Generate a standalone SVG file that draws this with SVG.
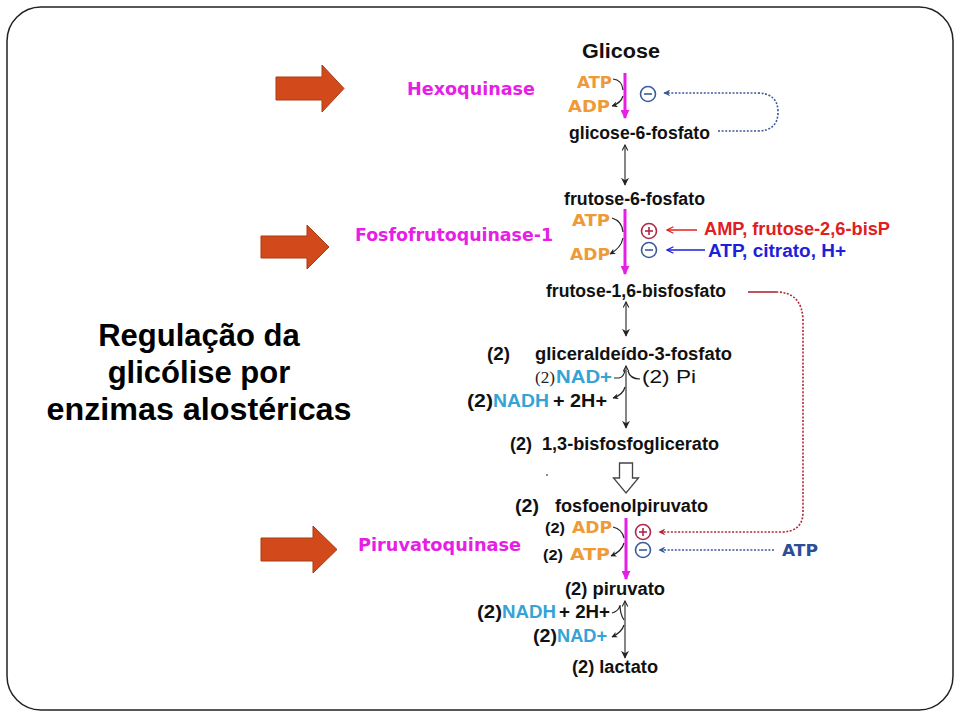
<svg xmlns="http://www.w3.org/2000/svg" width="960" height="720" viewBox="0 0 960 720">
<style>
.lbl{font-family:"Liberation Sans",Arial,sans-serif;font-weight:bold;font-size:17.5px;fill:#111}
.enz{font-family:"DejaVu Sans",Verdana,sans-serif;font-weight:bold;font-size:17px;fill:#E61EE6}
.nuc{font-family:"DejaVu Sans",Verdana,sans-serif;font-weight:bold;font-size:16.5px;fill:#EE9A38}
.cy{font-family:"Liberation Sans",Arial,sans-serif;font-weight:bold;font-size:17.5px;fill:#35A3D6}
.ser{font-family:"Liberation Serif","Times New Roman",serif;font-size:17px;fill:#222}
.title{font-family:"Liberation Sans",Arial,sans-serif;font-weight:bold;font-size:31px;fill:#000}
.mag{stroke:#E61EE6;stroke-width:3;fill:none}
.rxn{stroke:#444;stroke-width:1.3;fill:none}
.side{stroke:#222;stroke-width:1.2;fill:none}
.big{fill:#D24A1C;stroke:#A63A15;stroke-width:1}
.circ{fill:#fff;stroke-width:1.6}
</style>
<defs>
<marker id="mh" viewBox="0 0 10 10" refX="9" refY="5" markerWidth="9" markerHeight="9" markerUnits="userSpaceOnUse" orient="auto"><path d="M0,0 L10,5 L0,10 z" fill="#E61EE6"/></marker>
<marker id="bh" viewBox="0 0 10 10" refX="9" refY="5" markerWidth="9" markerHeight="8" markerUnits="userSpaceOnUse" orient="auto"><path d="M0,0 L10,5 L0,10 L3,5 z" fill="#222"/></marker>
<marker id="oh" viewBox="0 0 10 10" refX="9" refY="5" markerWidth="7" markerHeight="7" markerUnits="userSpaceOnUse" orient="auto-start-reverse"><path d="M1,1 L9,5 L1,9" fill="none" stroke="#222" stroke-width="1.5"/></marker>
<marker id="sh" viewBox="0 0 10 10" refX="9" refY="5" markerWidth="6" markerHeight="6" markerUnits="userSpaceOnUse" orient="auto"><path d="M0,0 L10,5 L0,10 L3,5 z" fill="#222"/></marker>
<marker id="dbl" viewBox="0 0 10 10" refX="9" refY="5" markerWidth="7" markerHeight="7" markerUnits="userSpaceOnUse" orient="auto"><path d="M0,0 L10,5 L0,10 L3,5 z" fill="#3A5A9A"/></marker>
<marker id="drd" viewBox="0 0 10 10" refX="9" refY="5" markerWidth="7" markerHeight="7" markerUnits="userSpaceOnUse" orient="auto"><path d="M0,0 L10,5 L0,10 L3,5 z" fill="#B02838"/></marker>
<marker id="rh" viewBox="0 0 10 10" refX="9" refY="5" markerWidth="8" markerHeight="8" markerUnits="userSpaceOnUse" orient="auto"><path d="M1,1 L9,5 L1,9" fill="none" stroke="#E0201E" stroke-width="1.5"/></marker>
<marker id="bl" viewBox="0 0 10 10" refX="9" refY="5" markerWidth="8" markerHeight="8" markerUnits="userSpaceOnUse" orient="auto"><path d="M1,1 L9,5 L1,9" fill="none" stroke="#1E1EDB" stroke-width="1.5"/></marker>
</defs>
<rect x="0" y="0" width="960" height="720" fill="#fff"/>
<rect id="frame" x="7" y="7" width="946" height="703" rx="34" fill="#fff" stroke="#222" stroke-width="1.5"/>

<g id="title">
<text class="title" x="199" y="346" text-anchor="middle">Regulação da</text>
<text class="title" x="199" y="383" text-anchor="middle">glicólise por</text>
<text class="title" x="199" y="420" text-anchor="middle" textLength="305" lengthAdjust="spacingAndGlyphs">enzimas alostéricas</text>
</g>

<g id="pointer1"><polygon class="big" points="276,77 322,77 322,65 344,88.5 322,112 322,100 276,100"/></g>
<g id="pointer2"><polygon class="big" points="261,236 307,236 307,225 329,247 307,269 307,258 261,258"/></g>
<g id="pointer3"><polygon class="big" points="261,538 313,538 313,526 337,549.5 313,573 313,561 261,561"/></g>

<g id="connectors">
<line class="mag" x1="625" y1="73" x2="625" y2="118" marker-end="url(#mh)"/>
<line class="mag" x1="625" y1="209" x2="625" y2="274" marker-end="url(#mh)"/>
<line class="mag" x1="626" y1="518" x2="626" y2="579" marker-end="url(#mh)"/>
<line class="rxn" x1="625" y1="145" x2="625" y2="185" marker-start="url(#oh)" marker-end="url(#bh)"/>
<line class="rxn" x1="626" y1="302" x2="626" y2="336" marker-start="url(#oh)" marker-end="url(#bh)"/>
<line class="rxn" x1="626" y1="366" x2="626" y2="428" marker-start="url(#oh)" marker-end="url(#bh)"/>
<line class="rxn" x1="625" y1="601" x2="625" y2="658" marker-start="url(#oh)" marker-end="url(#bh)"/>
<polygon points="619.5,463 632.5,463 632.5,478 638.5,478 626,493 613.5,478 619.5,478" fill="#fff" stroke="#444" stroke-width="1.3"/>
<path class="side" d="M613,79 Q622,80 623,90"/>
<path class="side" d="M623,96 Q621,103 612,106" marker-end="url(#sh)"/>
<path class="side" d="M612,218 Q622,221 623,232"/>
<path class="side" d="M623,238 Q621,248 610,254" marker-end="url(#sh)"/>
<path class="side" d="M614,378 L619,378 Q624,377 625,370"/>
<path class="side" d="M640,379 Q630,379 628,371"/>
<path class="side" d="M625,387 Q623,395 613,398" marker-end="url(#sh)"/>
<path class="side" d="M613,527 Q622,529 624,538"/>
<path class="side" d="M624,543 Q622,551 611,556" marker-end="url(#sh)"/>
<path class="side" d="M612,613 Q619,611 620,605 Q620,614 624,620"/>
<path class="side" d="M624,625 Q622,632 612,637" marker-end="url(#sh)"/>
<path d="M718,131 L757,131 Q778,131 778,112 Q778,93 757,93 L664,93" fill="none" stroke="#3A5A9A" stroke-width="1.6" stroke-dasharray="2 1.6" marker-end="url(#dbl)"/>
<path d="M748,292 L776,292" fill="none" stroke="#B02838" stroke-width="1.6"/>
<path d="M776,292 Q803,292 803,322 L803,512 Q803,532 781,532 L659,532" fill="none" stroke="#B02838" stroke-width="1.6" stroke-dasharray="2 1.6" marker-end="url(#drd)"/>
<path d="M774,550 L659,550" fill="none" stroke="#3A5A9A" stroke-width="1.6" stroke-dasharray="2 1.6" marker-end="url(#dbl)"/>
<line x1="697" y1="230" x2="667" y2="230" stroke="#E0201E" stroke-width="1.5" marker-end="url(#rh)"/>
<line x1="705" y1="250" x2="667" y2="250" stroke="#1E1EDB" stroke-width="1.5" marker-end="url(#bl)"/>
<circle cx="547" cy="475" r="1" fill="#666"/>
</g>

<g id="glicose"><text class="lbl" x="582" y="58" style="font-size:20px" textLength="78" lengthAdjust="spacingAndGlyphs">Glicose</text></g>

<g id="hexoquinase">
<text class="enz" x="407" y="95" textLength="128" lengthAdjust="spacingAndGlyphs">Hexoquinase</text>
<text class="nuc" x="577" y="88" textLength="35" lengthAdjust="spacingAndGlyphs">ATP</text>
<text class="nuc" x="568" y="112" textLength="42" lengthAdjust="spacingAndGlyphs">ADP</text>
<circle class="circ" cx="648" cy="94" r="7.5" stroke="#3A5D9A"/>
<line x1="644" y1="94" x2="652" y2="94" stroke="#3A5D9A" stroke-width="1.6"/>
</g>

<g id="g6p"><text class="lbl" x="569" y="139" textLength="141" lengthAdjust="spacingAndGlyphs">glicose-6-fosfato</text></g>
<g id="f6p"><text class="lbl" x="564" y="205" textLength="141" lengthAdjust="spacingAndGlyphs">frutose-6-fosfato</text></g>

<g id="pfk1">
<text class="enz" x="355" y="241" textLength="198" lengthAdjust="spacingAndGlyphs">Fosfofrutoquinase-1</text>
<text class="nuc" x="572" y="226" textLength="38" lengthAdjust="spacingAndGlyphs">ATP</text>
<text class="nuc" x="570" y="260" textLength="40" lengthAdjust="spacingAndGlyphs">ADP</text>
<circle class="circ" cx="649" cy="231" r="7.5" stroke="#B02848"/>
<line x1="645" y1="231" x2="653" y2="231" stroke="#B02848" stroke-width="1.6"/>
<line x1="649" y1="227" x2="649" y2="235" stroke="#B02848" stroke-width="1.6"/>
<circle class="circ" cx="649" cy="250" r="7.5" stroke="#3A5D9A"/>
<line x1="645" y1="250" x2="653" y2="250" stroke="#3A5D9A" stroke-width="1.6"/>
<text class="lbl" x="704" y="235" style="fill:#E0201E;font-size:17.5px" textLength="186" lengthAdjust="spacingAndGlyphs">AMP, frutose-2,6-bisP</text>
<text class="lbl" x="708" y="257" style="fill:#1E1EDB;font-size:17.5px" textLength="138" lengthAdjust="spacingAndGlyphs">ATP, citrato, H+</text>
</g>

<g id="f16bp"><text class="lbl" x="546" y="297" textLength="180" lengthAdjust="spacingAndGlyphs">frutose-1,6-bisfosfato</text></g>

<g id="g3p">
<text class="lbl" x="487" y="360" textLength="23" lengthAdjust="spacingAndGlyphs">(2)</text>
<text class="lbl" x="535" y="360" textLength="197" lengthAdjust="spacingAndGlyphs">gliceraldeído-3-fosfato</text>
<text class="ser" x="535" y="383" textLength="20" lengthAdjust="spacingAndGlyphs">(2)</text>
<text class="cy" x="556" y="383" textLength="56" lengthAdjust="spacingAndGlyphs">NAD+</text>
<text class="lbl" x="642" y="383" style="font-weight:normal;font-size:18.5px" textLength="54" lengthAdjust="spacingAndGlyphs">(2) Pi</text>
<text class="lbl" x="467" y="407" textLength="26" lengthAdjust="spacingAndGlyphs">(2)</text>
<text class="cy" x="493" y="407" textLength="56" lengthAdjust="spacingAndGlyphs">NADH</text>
<text class="lbl" x="553" y="407" textLength="54" lengthAdjust="spacingAndGlyphs">+ 2H+</text>
</g>

<g id="bpg">
<text class="lbl" x="510" y="450" textLength="22" lengthAdjust="spacingAndGlyphs">(2)</text>
<text class="lbl" x="542" y="450" textLength="177" lengthAdjust="spacingAndGlyphs">1,3-bisfosfoglicerato</text>
</g>

<g id="pep">
<text class="lbl" x="515" y="512" textLength="24" lengthAdjust="spacingAndGlyphs">(2)</text>
<text class="lbl" x="555" y="512" textLength="153" lengthAdjust="spacingAndGlyphs">fosfoenolpiruvato</text>
</g>

<g id="piruvatoquinase">
<text class="enz" x="358" y="551" textLength="163" lengthAdjust="spacingAndGlyphs">Piruvatoquinase</text>
<text class="lbl" x="545" y="533" style="font-size:15.5px" textLength="20" lengthAdjust="spacingAndGlyphs">(2)</text>
<text class="nuc" x="572" y="533" textLength="40" lengthAdjust="spacingAndGlyphs">ADP</text>
<text class="lbl" x="543" y="560" style="font-size:15.5px" textLength="20" lengthAdjust="spacingAndGlyphs">(2)</text>
<text class="nuc" x="570" y="560" textLength="40" lengthAdjust="spacingAndGlyphs">ATP</text>
<circle class="circ" cx="643" cy="532" r="7.5" stroke="#B02848"/>
<line x1="639" y1="532" x2="647" y2="532" stroke="#B02848" stroke-width="1.6"/>
<line x1="643" y1="528" x2="643" y2="536" stroke="#B02848" stroke-width="1.6"/>
<circle class="circ" cx="643" cy="550" r="7.5" stroke="#3A5D9A"/>
<line x1="639" y1="550" x2="647" y2="550" stroke="#3A5D9A" stroke-width="1.6"/>
<text class="nuc" x="782" y="556" style="fill:#2B4E96" textLength="36" lengthAdjust="spacingAndGlyphs">ATP</text>
</g>

<g id="piruvato"><text class="lbl" x="565" y="595" textLength="100" lengthAdjust="spacingAndGlyphs">(2) piruvato</text></g>

<g id="ldh">
<text class="lbl" x="477" y="618" textLength="25" lengthAdjust="spacingAndGlyphs">(2)</text>
<text class="cy" x="502" y="618" textLength="54" lengthAdjust="spacingAndGlyphs">NADH</text>
<text class="lbl" x="559" y="618" textLength="51" lengthAdjust="spacingAndGlyphs">+ 2H+</text>
<text class="lbl" x="533" y="642" textLength="24" lengthAdjust="spacingAndGlyphs">(2)</text>
<text class="cy" x="557" y="642" textLength="50" lengthAdjust="spacingAndGlyphs">NAD+</text>
</g>

<g id="lactato"><text class="lbl" x="572" y="673" textLength="86" lengthAdjust="spacingAndGlyphs">(2) lactato</text></g>
</svg>
